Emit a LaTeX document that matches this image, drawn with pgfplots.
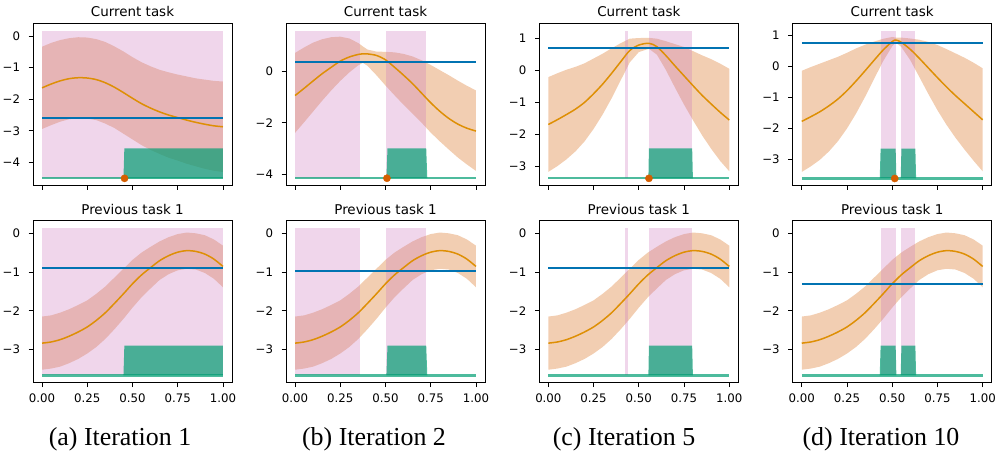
\documentclass[border=0pt]{standalone}
\usepackage{fontspec}
\setmainfont{DejaVu Sans}
\newfontfamily\capfont{Liberation Serif}
\usepackage{pgfplots}
\usepackage{pgfplotstable}
\pgfplotsset{compat=1.18}
\usepgfplotslibrary{fillbetween}
\definecolor{cbblue}{HTML}{0173B2}
\definecolor{cborange}{HTML}{DE8F05}
\definecolor{cbgreen}{HTML}{029E73}
\definecolor{cbred}{HTML}{D55E00}
\definecolor{cbpink}{HTML}{CC78BC}

\pgfplotstableread{
x m lo hi
0 -1.64 -2.94 -0.34
0.05 -1.52 -2.82 -0.22
0.1 -1.42 -2.71 -0.13
0.15 -1.35 -2.63 -0.07
0.2 -1.32 -2.60 -0.04
0.25 -1.33 -2.61 -0.05
0.3 -1.38 -2.66 -0.10
0.35 -1.48 -2.77 -0.19
0.4 -1.62 -2.91 -0.33
0.45 -1.79 -3.09 -0.49
0.5 -1.97 -3.27 -0.67
0.55 -2.14 -3.45 -0.83
0.6 -2.28 -3.60 -0.96
0.65 -2.40 -3.73 -1.07
0.7 -2.50 -3.85 -1.15
0.75 -2.58 -3.94 -1.22
0.8 -2.66 -4.04 -1.28
0.85 -2.73 -4.12 -1.34
0.9 -2.79 -4.20 -1.38
0.95 -2.84 -4.26 -1.42
1 -2.87 -4.30 -1.44
}\curA

\pgfplotstableread{
x m lo hi
0 -0.94 -2.39 0.72
0.05 -0.66 -1.98 0.93
0.1 -0.37 -1.56 1.12
0.15 -0.09 -1.14 1.25
0.2 0.16 -0.74 1.33
0.25 0.40 -0.37 1.35
0.3 0.56 -0.04 1.28
0.35 0.66 0.24 1.10
0.375 0.68 0.33 0.97
0.4 0.68 0.22 0.85
0.45 0.62 -0.15 0.77
0.5 0.45 -0.55 0.76
0.55 0.16 -0.93 0.74
0.6 -0.15 -1.30 0.68
0.65 -0.48 -1.65 0.58
0.7 -0.85 -2.00 0.43
0.75 -1.22 -2.38 0.25
0.8 -1.55 -2.72 0.05
0.85 -1.83 -3.04 -0.15
0.9 -2.05 -3.35 -0.36
0.95 -2.21 -3.62 -0.56
1 -2.32 -3.87 -0.74
}\curB

\pgfplotstableread{
x m lo hi
0 -1.69 -3.17 -0.21
0.05 -1.54 -2.99 -0.09
0.1 -1.38 -2.78 0.02
0.15 -1.21 -2.53 0.11
0.2 -1.00 -2.22 0.22
0.25 -0.73 -1.83 0.37
0.3 -0.43 -1.38 0.52
0.35 -0.09 -0.87 0.69
0.4 0.27 -0.31 0.85
0.45 0.62 0.25 0.99
0.5 0.79 0.57 1.01
0.556 0.845 0.675 1.015
0.6 0.74 0.49 0.99
0.65 0.46 0.01 0.91
0.7 0.14 -0.54 0.82
0.75 -0.17 -1.07 0.73
0.8 -0.48 -1.56 0.60
0.85 -0.78 -2.03 0.47
0.9 -1.05 -2.45 0.35
0.95 -1.31 -2.83 0.21
1 -1.55 -3.15 0.05
}\curC

\pgfplotstableread{
x m lo hi
0 -1.77 -3.40 -0.14
0.05 -1.62 -3.22 -0.02
0.1 -1.46 -3.01 0.09
0.15 -1.27 -2.74 0.20
0.2 -1.05 -2.41 0.31
0.25 -0.78 -2.00 0.44
0.3 -0.47 -1.52 0.58
0.35 -0.14 -0.98 0.70
0.4 0.20 -0.40 0.80
0.45 0.53 0.17 0.89
0.5 0.80 0.65 0.95
0.52 0.85 0.77 0.93
0.55 0.78 0.63 0.93
0.6 0.55 0.20 0.90
0.65 0.26 -0.34 0.86
0.7 -0.05 -0.89 0.79
0.75 -0.36 -1.41 0.69
0.8 -0.66 -1.88 0.56
0.85 -0.94 -2.30 0.42
0.9 -1.20 -2.68 0.28
0.95 -1.46 -3.04 0.12
1 -1.72 -3.38 -0.06
}\curD

\pgfplotstableread{
x m lo hi
0 -2.84 -3.53 -2.15
0.05 -2.81 -3.50 -2.12
0.1 -2.75 -3.45 -2.05
0.15 -2.66 -3.36 -1.96
0.2 -2.55 -3.25 -1.85
0.25 -2.42 -3.11 -1.73
0.3 -2.25 -2.94 -1.56
0.35 -2.05 -2.73 -1.37
0.4 -1.81 -2.48 -1.14
0.45 -1.56 -2.21 -0.91
0.5 -1.30 -1.92 -0.68
0.55 -1.07 -1.65 -0.49
0.6 -0.88 -1.42 -0.34
0.65 -0.70 -1.20 -0.20
0.7 -0.57 -1.05 -0.09
0.75 -0.48 -0.95 -0.01
0.8 -0.44 -0.91 0.03
0.85 -0.46 -0.93 0.01
0.9 -0.53 -1.02 -0.04
0.95 -0.66 -1.17 -0.15
1 -0.85 -1.39 -0.31
}\prevGP

\pgfplotsset{
  gpax/.style={
    scale only axis, width=199bp, height=162bp,
    anchor=north west,
    xmin=-0.05, xmax=1.05,
    xtick={0,0.25,0.5,0.75,1},
    tick align=outside, tick pos=left,
    major tick length=4.3bp,
    every tick/.style={black, line width=0.8bp},
    axis line style={black, line width=0.9bp},
    every axis title/.style={at={(0.5,1)}, anchor=base, yshift=6.6bp,
      font=\fontsize{13.5}{16}\selectfont},
    xticklabel style={font=\fontsize{11.8}{14}\selectfont, anchor=north, inner sep=0pt, yshift=-6.4bp},
    yticklabel style={font=\fontsize{11.8}{14}\selectfont, anchor=east, inner sep=0pt, xshift=-8.5bp},
  },
  toprow/.style={xticklabels={}, title={Current task}},
  botrow/.style={xticklabels={0.00,0.25,0.50,0.75,1.00}, title={Previous task 1},
    ymin=-3.867, ymax=0.337, ytick={-3,-2,-1,0}, yticklabels={−3,−2,−1,0}},
  meanline/.style={cborange, line width=1.5bp, smooth},
  blueline/.style={draw=cbblue, line width=1.9bp},
  greenbase/.style={cbgreen, opacity=0.7, line width=2.2bp},
}

\begin{document}
\begin{tikzpicture}

% ---------------- column (a) ----------------
\begin{axis}[gpax, toprow, at={(33bp,-23.3bp)},
  ymin=-4.72, ymax=0.40, ytick={-4,-3,-2,-1,0}, yticklabels={−4,−3,−2,−1,0}]
\addplot[draw=none, name path=Ua] table[x=x,y=hi]{\curA};
\addplot[draw=none, name path=La] table[x=x,y=lo]{\curA};
\addplot[fill=cbred, fill opacity=0.3, draw=none] fill between[of=Ua and La];
\addplot[draw=none, fill=cbpink, fill opacity=0.3] coordinates {(0,-4.5) (0,0.17) (1,0.17) (1,-4.5)} -- cycle;
\addplot[meanline] table[x=x,y=m]{\curA};
\addplot[blueline] coordinates {(0,-2.6) (1,-2.6)};
\addplot[draw=none, fill=cbgreen, fill opacity=0.7] coordinates {(0.450,-4.5) (0.455,-3.55) (1,-3.55) (1,-4.5)} -- cycle;
\addplot[greenbase] coordinates {(0,-4.5) (1,-4.5)};
\addplot[only marks, mark=*, mark size=3.6bp, cbred] coordinates {(0.456,-4.5)};
\end{axis}

\begin{axis}[gpax, botrow, at={(33bp,-220.7bp)}]
\addplot[draw=none, name path=Uab] table[x=x,y=hi]{\prevGP};
\addplot[draw=none, name path=Lab] table[x=x,y=lo]{\prevGP};
\addplot[fill=cbred, fill opacity=0.3, draw=none] fill between[of=Uab and Lab];
\addplot[draw=none, fill=cbpink, fill opacity=0.3] coordinates {(0,-3.68) (0,0.156) (1,0.156) (1,-3.68)} -- cycle;
\addplot[meanline] table[x=x,y=m]{\prevGP};
\addplot[blueline] coordinates {(0,-0.9) (1,-0.9)};
\addplot[draw=none, fill=cbgreen, fill opacity=0.7] coordinates {(0.450,-3.68) (0.455,-2.905) (1,-2.905) (1,-3.68)} -- cycle;
\addplot[greenbase] coordinates {(0,-3.68) (1,-3.68)};
\end{axis}

% ---------------- column (b) ----------------
\begin{axis}[gpax, toprow, at={(286bp,-23.3bp)},
  ymin=-4.43, ymax=1.87, ytick={-4,-2,0}, yticklabels={−4,−2,0}]
\addplot[draw=none, name path=Ub] table[x=x,y=hi]{\curB};
\addplot[draw=none, name path=Lb] table[x=x,y=lo]{\curB};
\addplot[fill=cbred, fill opacity=0.3, draw=none] fill between[of=Ub and Lb];
\addplot[draw=none, fill=cbpink, fill opacity=0.3] coordinates {(0,-4.155) (0,1.59) (0.36,1.59) (0.36,-4.155)} -- cycle;
\addplot[draw=none, fill=cbpink, fill opacity=0.3] coordinates {(0.505,-4.155) (0.505,1.59) (0.725,1.59) (0.725,-4.155)} -- cycle;
\addplot[meanline] table[x=x,y=m]{\curB};
\addplot[blueline] coordinates {(0,0.37) (1,0.37)};
\addplot[draw=none, fill=cbgreen, fill opacity=0.7] coordinates {(0.505,-4.155) (0.511,-2.99) (0.725,-2.99) (0.731,-4.155)} -- cycle;
\addplot[greenbase] coordinates {(0,-4.155) (1,-4.155)};
\addplot[only marks, mark=*, mark size=3.6bp, cbred] coordinates {(0.508,-4.155)};
\end{axis}

\begin{axis}[gpax, botrow, at={(286bp,-220.7bp)}]
\addplot[draw=none, name path=Ubb] table[x=x,y=hi]{\prevGP};
\addplot[draw=none, name path=Lbb] table[x=x,y=lo]{\prevGP};
\addplot[fill=cbred, fill opacity=0.3, draw=none] fill between[of=Ubb and Lbb];
\addplot[draw=none, fill=cbpink, fill opacity=0.3] coordinates {(0,-3.68) (0,0.156) (0.36,0.156) (0.36,-3.68)} -- cycle;
\addplot[draw=none, fill=cbpink, fill opacity=0.3] coordinates {(0.505,-3.68) (0.505,0.156) (0.725,0.156) (0.725,-3.68)} -- cycle;
\addplot[meanline] table[x=x,y=m]{\prevGP};
\addplot[blueline] coordinates {(0,-0.977) (0.5,-0.977) (1,-0.977)};
\addplot[draw=none, fill=cbgreen, fill opacity=0.7] coordinates {(0.505,-3.68) (0.511,-2.905) (0.725,-2.905) (0.731,-3.68)} -- cycle;
\addplot[greenbase] coordinates {(0,-3.68) (1,-3.68)};
\end{axis}

% ---------------- column (c) ----------------
\begin{axis}[gpax, toprow, at={(539.3bp,-23.3bp)},
  ymin=-3.59, ymax=1.47, ytick={-3,-2,-1,0,1}, yticklabels={−3,−2,−1,0,1}]
\addplot[draw=none, name path=Uc] table[x=x,y=hi]{\curC};
\addplot[draw=none, name path=Lc] table[x=x,y=lo]{\curC};
\addplot[fill=cbred, fill opacity=0.3, draw=none] fill between[of=Uc and Lc];
\addplot[draw=none, fill=cbpink, fill opacity=0.3] coordinates {(0.423,-3.373) (0.423,1.24) (0.442,1.24) (0.442,-3.373)} -- cycle;
\addplot[draw=none, fill=cbpink, fill opacity=0.3] coordinates {(0.556,-3.373) (0.556,1.24) (0.795,1.24) (0.795,-3.373)} -- cycle;
\addplot[meanline] table[x=x,y=m]{\curC};
\addplot[blueline] coordinates {(0,0.70) (1,0.70)};
\addplot[draw=none, fill=cbgreen, fill opacity=0.7] coordinates {(0.553,-3.373) (0.556,-2.44) (0.795,-2.44) (0.799,-3.373)} -- cycle;
\addplot[greenbase] coordinates {(0,-3.373) (1,-3.373)};
\addplot[only marks, mark=*, mark size=3.6bp, cbred] coordinates {(0.556,-3.373)};
\end{axis}

\begin{axis}[gpax, botrow, at={(539.3bp,-220.7bp)}]
\addplot[draw=none, name path=Ucb] table[x=x,y=hi]{\prevGP};
\addplot[draw=none, name path=Lcb] table[x=x,y=lo]{\prevGP};
\addplot[fill=cbred, fill opacity=0.3, draw=none] fill between[of=Ucb and Lcb];
\addplot[draw=none, fill=cbpink, fill opacity=0.3] coordinates {(0.423,-3.68) (0.423,0.156) (0.442,0.156) (0.442,-3.68)} -- cycle;
\addplot[draw=none, fill=cbpink, fill opacity=0.3] coordinates {(0.556,-3.68) (0.556,0.156) (0.795,0.156) (0.795,-3.68)} -- cycle;
\addplot[meanline] table[x=x,y=m]{\prevGP};
\addplot[blueline] coordinates {(0,-0.9) (1,-0.9)};
\addplot[draw=none, fill=cbgreen, fill opacity=0.7] coordinates {(0.553,-3.68) (0.556,-2.905) (0.795,-2.905) (0.799,-3.68)} -- cycle;
\addplot[greenbase] coordinates {(0,-3.68) (1,-3.68)};
\end{axis}

% ---------------- column (d) ----------------
\begin{axis}[gpax, toprow, at={(792.7bp,-23.3bp)},
  ymin=-3.83, ymax=1.39, ytick={-3,-2,-1,0,1}, yticklabels={−3,−2,−1,0,1}]
\addplot[draw=none, name path=Ud] table[x=x,y=hi]{\curD};
\addplot[draw=none, name path=Ld] table[x=x,y=lo]{\curD};
\addplot[fill=cbred, fill opacity=0.3, draw=none] fill between[of=Ud and Ld];
\addplot[draw=none, fill=cbpink, fill opacity=0.3] coordinates {(0.436,-3.61) (0.436,1.15) (0.519,1.15) (0.519,-3.61)} -- cycle;
\addplot[draw=none, fill=cbpink, fill opacity=0.3] coordinates {(0.551,-3.61) (0.551,1.15) (0.628,1.15) (0.628,-3.61)} -- cycle;
\addplot[meanline] table[x=x,y=m]{\curD};
\addplot[blueline] coordinates {(0,0.765) (1,0.765)};
\addplot[draw=none, fill=cbgreen, fill opacity=0.7] coordinates {(0.431,-3.61) (0.436,-2.65) (0.519,-2.65) (0.523,-3.61)} -- cycle;
\addplot[draw=none, fill=cbgreen, fill opacity=0.7] coordinates {(0.547,-3.61) (0.551,-2.65) (0.628,-2.65) (0.632,-3.61)} -- cycle;
\addplot[greenbase] coordinates {(0,-3.61) (1,-3.61)};
\addplot[only marks, mark=*, mark size=3.6bp, cbred] coordinates {(0.514,-3.61)};
\end{axis}

\begin{axis}[gpax, botrow, at={(792.7bp,-220.7bp)}]
\addplot[draw=none, name path=Udb] table[x=x,y=hi]{\prevGP};
\addplot[draw=none, name path=Ldb] table[x=x,y=lo]{\prevGP};
\addplot[fill=cbred, fill opacity=0.3, draw=none] fill between[of=Udb and Ldb];
\addplot[draw=none, fill=cbpink, fill opacity=0.3] coordinates {(0.436,-3.68) (0.436,0.156) (0.519,0.156) (0.519,-3.68)} -- cycle;
\addplot[draw=none, fill=cbpink, fill opacity=0.3] coordinates {(0.551,-3.68) (0.551,0.156) (0.628,0.156) (0.628,-3.68)} -- cycle;
\addplot[meanline] table[x=x,y=m]{\prevGP};
\addplot[blueline] coordinates {(0,-1.3) (1,-1.3)};
\addplot[draw=none, fill=cbgreen, fill opacity=0.7] coordinates {(0.431,-3.68) (0.436,-2.905) (0.519,-2.905) (0.523,-3.68)} -- cycle;
\addplot[draw=none, fill=cbgreen, fill opacity=0.7] coordinates {(0.547,-3.68) (0.551,-2.905) (0.628,-2.905) (0.632,-3.68)} -- cycle;
\addplot[greenbase] coordinates {(0,-3.68) (1,-3.68)};
\end{axis}

% ---------------- captions ----------------
\node[anchor=base, font=\capfont\fontsize{26}{30}\selectfont] at (120bp,-445bp) {(a) Iteration 1};
\node[anchor=base, font=\capfont\fontsize{26}{30}\selectfont] at (374bp,-445bp) {(b) Iteration 2};
\node[anchor=base, font=\capfont\fontsize{26}{30}\selectfont] at (624bp,-445bp) {(c) Iteration 5};
\node[anchor=base, font=\capfont\fontsize{26}{30}\selectfont] at (881bp,-445bp) {(d) Iteration 10};

\pgfresetboundingbox
\useasboundingbox (0,0) rectangle (995bp,-451bp);
\end{tikzpicture}
\end{document}
